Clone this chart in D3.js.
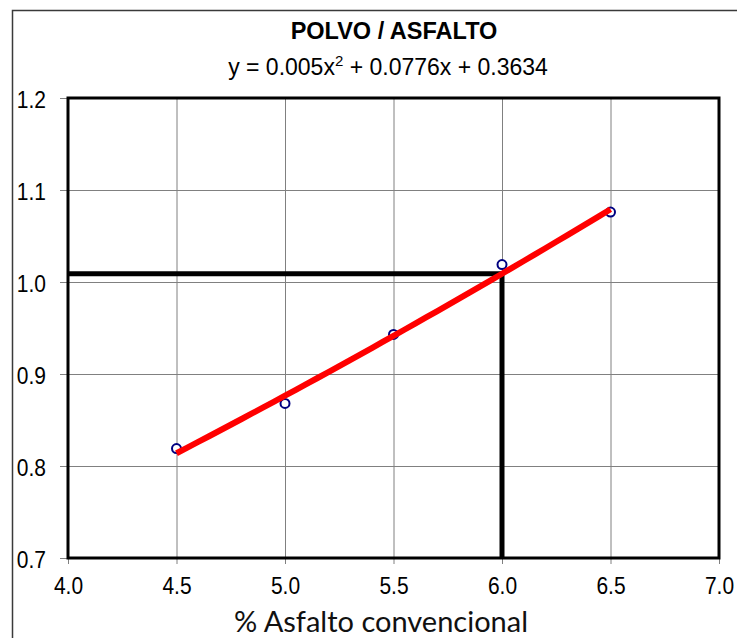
<!DOCTYPE html>
<html>
<head>
<meta charset="utf-8">
<script src="https://cdn.jsdelivr.net/npm/d3@7"></script>
<style>
  html, body { margin: 0; padding: 0; background: #fff; }
  svg { display: block; }
</style>
</head>
<body>
<svg id="chart" width="737" height="638"></svg>
<script>
// Measured dust/asphalt ratio against conventional asphalt content
const asphaltPct = [4.5, 5.0, 5.5, 6.0, 6.5];
const dustRatio = [0.819, 0.868, 0.943, 1.019, 1.076];

// Quadratic trend fitted to the points: y = a x^2 + b x + c
const trendCoef = [0.005, 0.0776, 0.3634];
const trendRange = [4.5, 6.5];

// Design asphalt content
const designPct = 6.0;

const xTicks = [4.0, 4.5, 5.0, 5.5, 6.0, 6.5, 7.0];
const yTicks = [0.7, 0.8, 0.9, 1.0, 1.1, 1.2];

const titleText = "POLVO / ASFALTO";
const xAxisTitle = "% Asfalto convencional";

const svg = d3.select("#chart");
const plot = { left: 68, right: 719, top: 98, bottom: 558 };

const x = d3.scaleLinear().domain([4.0, 7.0]).range([plot.left, plot.right]);
const y = d3.scaleLinear().domain([0.7, 1.2]).range([plot.bottom, plot.top]);

const trend = v => trendCoef[0] * v * v + trendCoef[1] * v + trendCoef[2];
const tickFont = "Liberation Sans, Arial, sans-serif";
const stretch = 1.1;

// outer frame of the chart object
svg.append("path")
  .attr("d", `M12.5,640 L12.5,10.5 L740,10.5`)
  .attr("fill", "none")
  .attr("stroke", "#3a3a3a")
  .attr("stroke-width", 1.5);

// gridlines
svg.append("g")
  .attr("transform", `translate(0,${plot.bottom})`)
  .call(d3.axisBottom(x).tickValues(xTicks).tickSize(-(plot.bottom - plot.top)).tickFormat(""))
  .call(g => g.select(".domain").remove())
  .call(g => g.selectAll("line").attr("stroke", "#808080").attr("stroke-width", 1));
svg.append("g")
  .attr("transform", `translate(${plot.left},0)`)
  .call(d3.axisLeft(y).tickValues(yTicks).tickSize(-(plot.right - plot.left)).tickFormat(""))
  .call(g => g.select(".domain").remove())
  .call(g => g.selectAll("line").attr("stroke", "#808080").attr("stroke-width", 1));

// outside tick marks and labels
const xAxis = svg.append("g")
  .attr("transform", `translate(0,${plot.bottom})`)
  .call(d3.axisBottom(x).tickValues(xTicks).tickSize(6).tickFormat(d3.format(".1f")));
xAxis.select(".domain").remove();
xAxis.selectAll("line").attr("stroke", "#808080");
xAxis.selectAll("text")
  .attr("x", 0).attr("y", 0).attr("dy", null)
  .attr("transform", `translate(0,36) scale(1,${stretch})`)
  .attr("font-family", tickFont)
  .attr("font-size", 21)
  .attr("fill", "#000");

const yAxis = svg.append("g")
  .attr("transform", `translate(${plot.left},0)`)
  .call(d3.axisLeft(y).tickValues(yTicks).tickSize(8).tickFormat(d3.format(".1f")));
yAxis.select(".domain").remove();
yAxis.selectAll("line").attr("stroke", "#808080");
yAxis.selectAll("text")
  .attr("x", 0).attr("y", 0).attr("dy", null)
  .attr("transform", `translate(-22,9) scale(1,${stretch})`)
  .attr("font-family", tickFont)
  .attr("font-size", 21)
  .attr("fill", "#000");

// plot area border
svg.append("rect")
  .attr("x", plot.left).attr("y", plot.top)
  .attr("width", plot.right - plot.left).attr("height", plot.bottom - plot.top)
  .attr("fill", "none").attr("stroke", "#000").attr("stroke-width", 3);

// design-content reading lines
const designY = trend(designPct);
svg.append("path")
  .attr("d", d3.line()([[x(4.0), y(designY)], [x(designPct), y(designY)], [x(designPct), y(0.7)]]))
  .attr("fill", "none").attr("stroke", "#000").attr("stroke-width", 5);

// measured points
svg.append("g").selectAll("circle")
  .data(asphaltPct.map((v, i) => [v, dustRatio[i]]))
  .join("circle")
  .attr("cx", d => x(d[0])).attr("cy", d => y(d[1]))
  .attr("r", 4.5)
  .attr("fill", "#fff").attr("stroke", "#000080").attr("stroke-width", 2);

// trend curve
const trendPts = d3.range(0, 41).map(i => {
  const v = trendRange[0] + (trendRange[1] - trendRange[0]) * i / 40;
  return [x(v), y(trend(v))];
});
svg.append("path")
  .attr("d", d3.line()(trendPts))
  .attr("fill", "none").attr("stroke", "#ff0000").attr("stroke-width", 6);

// titles
svg.append("text")
  .attr("x", 394).attr("y", 39)
  .attr("text-anchor", "middle")
  .attr("font-family", tickFont)
  .attr("font-weight", "bold").attr("font-size", 23.5)
  .text(titleText);

const eq = svg.append("text")
  .attr("x", 388).attr("y", 75)
  .attr("text-anchor", "middle")
  .attr("font-family", tickFont)
  .attr("font-size", 23);
eq.append("tspan").text(`y = ${trendCoef[0]}x`);
eq.append("tspan").attr("dy", -9).attr("font-size", 15).text("2");
eq.append("tspan").attr("dy", 9).text(` + ${trendCoef[1]}x + ${trendCoef[2]}`);

svg.append("text")
  .attr("x", 381).attr("y", 632)
  .attr("text-anchor", "middle")
  .attr("font-family", "Lato, 'Open Sans', sans-serif")
  .attr("font-size", 29)
  .attr("fill", "#111")
  .text(xAxisTitle);
</script>
</body>
</html>
